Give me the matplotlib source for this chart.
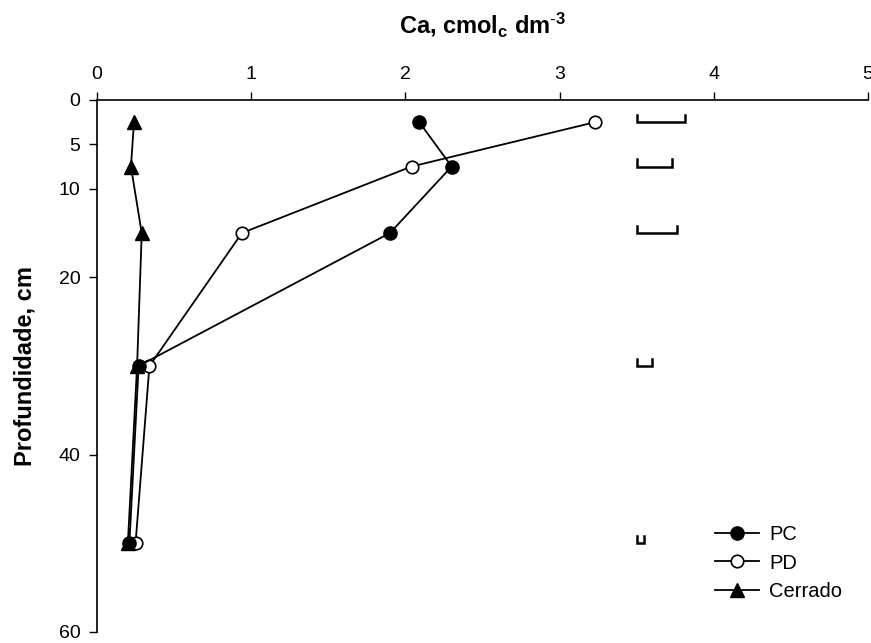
import matplotlib
matplotlib.use("Agg")
import matplotlib.pyplot as plt

plt.rcParams['font.family'] = ['Liberation Sans', 'DejaVu Sans']
plt.rcParams['mathtext.fontset'] = 'custom'
plt.rcParams['mathtext.rm'] = 'Liberation Sans'
plt.rcParams['mathtext.bf'] = 'Liberation Sans:bold'
plt.rcParams['mathtext.default'] = 'bf'

depth = [2.5, 7.5, 15, 30, 50]
pc = [2.09, 2.30, 1.90, 0.27, 0.21]
pd_ = [3.23, 2.04, 0.94, 0.34, 0.25]
cerrado = [0.24, 0.22, 0.29, 0.26, 0.20]
lsd = [0.31, 0.23, 0.26, 0.10, 0.045]
lsd_x0 = 3.5
xticks = [0, 1, 2, 3, 4, 5]
yticks = [0, 5, 10, 20, 40, 60]

fig = plt.figure(figsize=(8.71, 6.43), dpi=100)
ax = fig.add_axes([97/871, 1-632/643, (868-97)/871, (632-100)/643])

ax.plot(cerrado, depth, '-', color='black', lw=1.3, marker='^', ms=10,
        mfc='black', mec='black', label='Cerrado', zorder=3)
ax.plot(pd_, depth, '-', color='black', lw=1.3, marker='o', ms=9,
        mfc='white', mec='black', mew=1.2, label='PD', zorder=4)
ax.plot(pc, depth, '-', color='black', lw=1.3, marker='o', ms=9.5,
        mfc='black', mec='black', label='PC', zorder=5)

tick_h = 0.8
for d, w in zip(depth, lsd):
    ax.plot([lsd_x0, lsd_x0, lsd_x0 + w, lsd_x0 + w],
            [d - tick_h, d, d, d - tick_h], color='black', lw=1.8,
            solid_joinstyle='miter', zorder=2)

ax.set_xlim(0, 5)
ax.set_ylim(60, 0)
ax.xaxis.tick_top()
ax.xaxis.set_label_position('top')
ax.set_xticks(xticks)
ax.set_yticks(yticks)
ax.tick_params(axis='both', direction='out', length=6, width=1, labelsize=14, pad=6)
for s in ['right', 'bottom']:
    ax.spines[s].set_visible(False)
for s in ['top', 'left']:
    ax.spines[s].set_linewidth(1.2)

ax.set_xlabel(r'Ca, cmol$_\mathbf{c}$ dm$^{\mathbf{\text{-}3}}$', fontsize=17, fontweight='bold', labelpad=24)
ax.set_ylabel('Profundidade, cm', fontsize=17, fontweight='bold', labelpad=16)

h, l = ax.get_legend_handles_labels()
order = [2, 1, 0]
ax.legend([h[i] for i in order], [l[i] for i in order], loc='lower right',
          bbox_to_anchor=(0.99, 0.025), frameon=False, fontsize=14.5,
          handlelength=2.2, labelspacing=0.45, handletextpad=0.5)

fig.savefig('out.png', dpi=100)
